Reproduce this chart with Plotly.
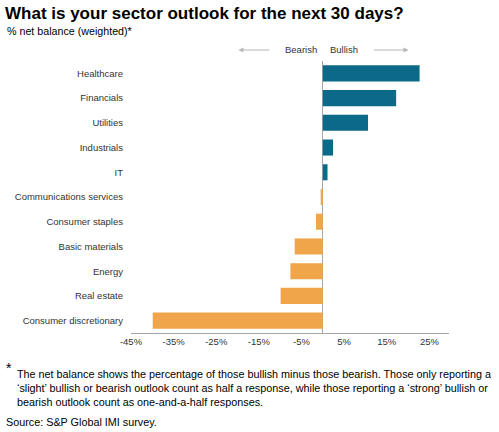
import plotly.graph_objects as go

sectors = ["Healthcare", "Financials", "Utilities", "Industrials", "IT",
           "Communications services", "Consumer staples", "Basic materials",
           "Energy", "Real estate", "Consumer discretionary"]
net_balance = [22.7, 17.2, 10.6, 2.4, 1.1, -0.5, -1.6, -6.6, -7.6, -9.9, -39.9]
tick_vals = [-45, -35, -25, -15, -5, 5, 15, 25]
tick_text = ["-45%", "-35%", "-25%", "-15%", "-5%", "5%", "15%", "25%"]

teal = "#0B6A88"
orange = "#F0A54A"
grey = "#A6A6A6"
font_family = "Liberation Sans, Arial, sans-serif"

W, H = 499, 432
L, R, T, B = 131, 50, 61, 99
pw, ph = W - L - R, H - T - B


def px_x(x):
    return (x - L) / pw


def px_y(y):
    return (H - B - y) / ph


colors = [teal if v >= 0 else orange for v in net_balance]

fig = go.Figure()
fig.add_trace(go.Bar(
    x=net_balance,
    y=sectors,
    orientation="h",
    marker_color=colors,
    marker_line_width=0,
    hoverinfo="x+y",
))

fig.update_layout(
    width=W, height=H,
    margin=dict(l=L, r=R, t=T, b=B, autoexpand=False),
    paper_bgcolor="white",
    plot_bgcolor="white",
    showlegend=False,
    bargap=0.35,
    font=dict(family=font_family, size=9.5, color="#333333"),
    title=dict(
        text="<b>What is your sector outlook for the next 30 days?</b>",
        font=dict(size=17, color="#000000"),
        xref="container", yref="container",
        x=5 / W, xanchor="left",
        y=1 - 13 / H, yanchor="middle",
    ),
    xaxis=dict(
        range=[-45, 29.6],
        tickvals=tick_vals,
        ticktext=tick_text,
        showgrid=False,
        zeroline=True,
        zerolinecolor=grey,
        zerolinewidth=1,
        showline=True,
        linecolor=grey,
        linewidth=1,
        ticks="",
        tickfont=dict(size=9.5, color="#333333"),
    ),
    yaxis=dict(
        autorange="reversed",
        showgrid=False,
        showline=False,
        ticks="",
        ticklabelstandoff=7,
        tickfont=dict(size=9.5, color="#333333"),
    ),
)

# subtitle
fig.add_annotation(text="% net balance (weighted)*", xref="paper", yref="paper",
                   x=px_x(5), y=px_y(31), xanchor="left", yanchor="middle",
                   showarrow=False, font=dict(size=10.7, color="#000000"))

# Bearish / Bullish labels with arrows
fig.add_annotation(text="Bearish", xref="x", yref="paper", x=-1, y=px_y(50),
                   xanchor="right", yanchor="middle", showarrow=False,
                   font=dict(size=9.5, color="#333333"))
fig.add_annotation(text="Bullish", xref="x", yref="paper", x=1.3, y=px_y(50),
                   xanchor="left", yanchor="middle", showarrow=False,
                   font=dict(size=9.5, color="#333333"))
fig.add_annotation(text="", xref="x", yref="paper", x=-19.8, y=px_y(50),
                   ax=-12.2, ay=0, axref="x", ayref="pixel",
                   showarrow=True, arrowhead=2, arrowsize=1, arrowwidth=1,
                   arrowcolor="#B8B8B8")
fig.add_annotation(text="", xref="x", yref="paper", x=20.1, y=px_y(50),
                   ax=11.6, ay=0, axref="x", ayref="pixel",
                   showarrow=True, arrowhead=2, arrowsize=1, arrowwidth=1,
                   arrowcolor="#B8B8B8")

# footnote
fig.add_annotation(text="*", xref="paper", yref="paper", x=px_x(4), y=px_y(368),
                   xanchor="left", yanchor="middle", showarrow=False,
                   font=dict(size=14, color="#000000"))
footnote = ("The net balance shows the percentage of those bullish minus those bearish. Those only reporting a<br>"
            "‘slight’ bullish or bearish outlook count as half a response, while those reporting a ‘strong’ bullish or<br>"
            "bearish outlook count as one-and-a-half responses.")
fig.add_annotation(text=footnote, xref="paper", yref="paper", x=px_x(15), y=px_y(366),
                   xanchor="left", yanchor="top", align="left", showarrow=False,
                   font=dict(size=10.8, color="#000000"))
fig.add_annotation(text="Source: S&P Global IMI survey.", xref="paper", yref="paper",
                   x=px_x(4), y=px_y(422), xanchor="left", yanchor="middle",
                   showarrow=False, font=dict(size=10.8, color="#000000"))

# drop the page's default body margin so the figure sits at the window corner
fig.write_html("out.html", config={"displayModeBar": False},
               post_script="document.body.style.margin='0';")
